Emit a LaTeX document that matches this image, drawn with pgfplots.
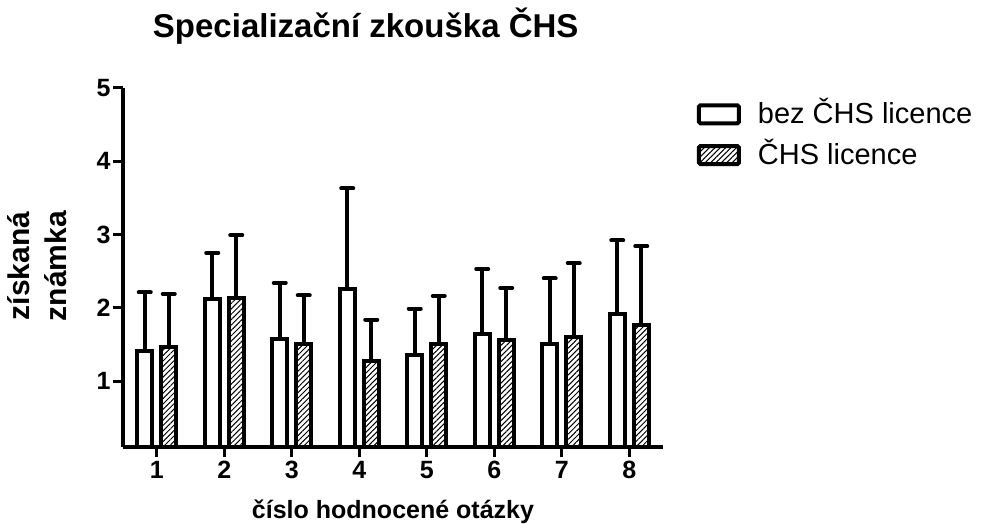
\documentclass[border=0pt]{standalone}
\usepackage{fontspec}
\setmainfont{Liberation Sans}
\usepackage{pgfplots}
\pgfplotsset{compat=1.18}
\usetikzlibrary{patterns.meta}

\begin{document}
\begin{tikzpicture}
\useasboundingbox (0,0) rectangle (982bp,524bp);
\begin{axis}[
  at={(123bp,77bp)}, anchor=south west,
  scale only axis, width=540bp, height=359bp,
  xmin=0.5, xmax=8.5, ymin=0.1, ymax=5,
  axis x line=bottom, axis y line=left,
  axis line style={-, line width=3.5bp, black},
  axis on top,
  xtick={1,...,8}, ytick={1,2,3,4,5},
  tick align=outside, major tick length=10bp,
  every tick/.style={black, line width=3bp},
  /pgf/number format/assume math mode=true,
  ticklabel style={font=\fontsize{25bp}{28bp}\selectfont\bfseries},
  xticklabel style={yshift=-1bp},
  yticklabel style={xshift=1bp},
  ybar, bar width=15bp,
  title={Specializační zkouška ČHS},
  title style={at={(0.4495,1.125)}, anchor=base, font=\fontsize{33bp}{38bp}\selectfont\bfseries},
  xlabel={číslo hodnocené otázky},
  xlabel style={at={(0.5,0)}, anchor=base, yshift=-71.5bp, font=\fontsize{25bp}{29bp}\selectfont\bfseries},
  ylabel={získaná\\známka},
  ylabel style={at={(-0.159,0.504)}, anchor=center, rotate=0, align=center, font=\fontsize{30bp}{37bp}\selectfont\bfseries},
  legend style={at={(1.0625,0.9778)}, anchor=north west, draw=none, fill=none, inner sep=0pt,
    font=\fontsize{29bp}{34bp}\selectfont, row sep=10bp},
  legend cell align=left,
  legend image code/.code={\draw[#1, line width=4bp, rounded corners=1.5bp] (0bp,-11.7bp) rectangle (40bp,6.3bp);},
  error bars/error bar style={line width=4bp, black},
  error bars/error mark options={rotate=90, line width=4bp, mark size=6bp, black, line cap=round},
]
\addplot[draw=black, fill=white, line width=4bp, bar shift=-12bp,
  error bars/.cd, y dir=plus, y explicit]
  coordinates {
  (1,1.41) +- (0,0.80)
  (2,2.12) +- (0,0.63)
  (3,1.58) +- (0,0.76)
  (4,2.25) +- (0,1.38)
  (5,1.35) +- (0,0.64)
  (6,1.64) +- (0,0.89)
  (7,1.50) +- (0,0.90)
  (8,1.91) +- (0,1.01)
  };
\addlegendentry{\hspace*{15bp}bez ČHS licence}
\addplot[draw=black, pattern={Lines[angle=45, distance=3.8bp, line width=1bp]}, line width=4bp, bar shift=12bp,
  error bars/.cd, y dir=plus, y explicit]
  coordinates {
  (1,1.46) +- (0,0.73)
  (2,2.13) +- (0,0.86)
  (3,1.50) +- (0,0.67)
  (4,1.28) +- (0,0.56)
  (5,1.50) +- (0,0.66)
  (6,1.56) +- (0,0.71)
  (7,1.60) +- (0,1.01)
  (8,1.76) +- (0,1.08)
  };
\addlegendentry{\hspace*{15bp}ČHS licence}
\end{axis}
\end{tikzpicture}
\end{document}
